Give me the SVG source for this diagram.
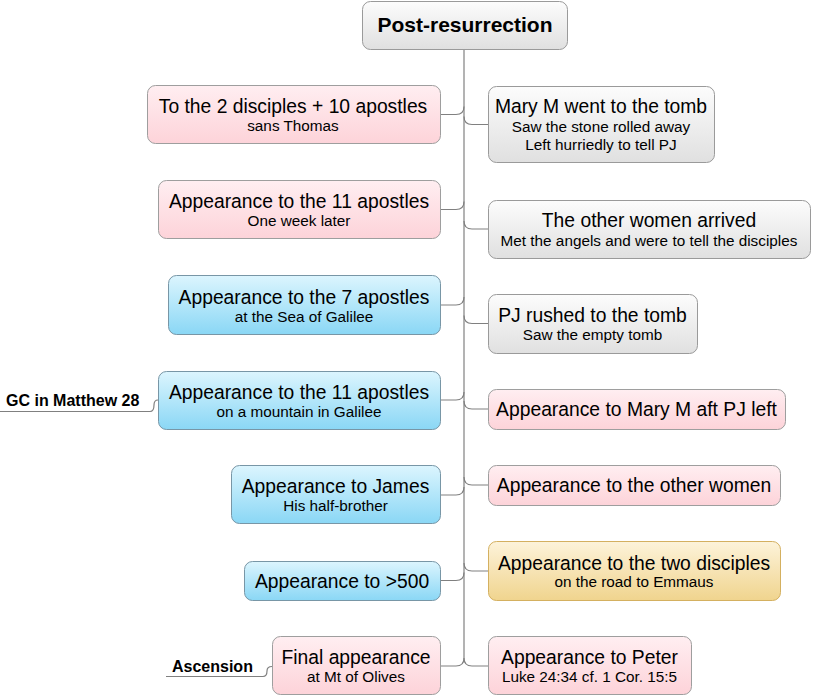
<svg xmlns="http://www.w3.org/2000/svg" width="813" height="697" viewBox="0 0 813 697">
<defs>
<linearGradient id="gPink" x1="0" y1="0" x2="0" y2="1"><stop offset="0" stop-color="#ffeef1"/><stop offset="1" stop-color="#fdd3d9"/></linearGradient>
<linearGradient id="gBlue" x1="0" y1="0" x2="0" y2="1"><stop offset="0" stop-color="#dcf5fe"/><stop offset="1" stop-color="#8ad7f5"/></linearGradient>
<linearGradient id="gGray" x1="0" y1="0" x2="0" y2="1"><stop offset="0" stop-color="#fcfcfc"/><stop offset="1" stop-color="#e0e0e0"/></linearGradient>
<linearGradient id="gGold" x1="0" y1="0" x2="0" y2="1"><stop offset="0" stop-color="#fdf3da"/><stop offset="1" stop-color="#f0d48e"/></linearGradient>
</defs>
<style>
text{font-family:"Liberation Sans",Arial,sans-serif;fill:#000;text-anchor:middle}
.m{font-size:19.3px}
.s{font-size:15.3px}
.t{font-size:21px;font-weight:bold}
.f{font-size:16px;font-weight:bold;text-anchor:start}
rect{stroke-width:1}
.pink{fill:url(#gPink);stroke:#9e9e9e}
.blue{fill:url(#gBlue);stroke:#7896a6}
.gray{fill:url(#gGray);stroke:#9a9a9a}
.gold{fill:url(#gGold);stroke:#d4b060}
.c{fill:none;stroke:#808080;stroke-width:1.2}
</style>
<rect width="813" height="697" fill="#ffffff"/>
<g id="connectors" class="c">
<path d="M464,49 V658"/>
<path d="M440,114.5 H456 Q464,114.5 464,106.5"/>
<path d="M440,209.5 H456 Q464,209.5 464,201.5"/>
<path d="M440,305 H456 Q464,305 464,297"/>
<path d="M440,400 H456 Q464,400 464,392"/>
<path d="M440,495 H456 Q464,495 464,487"/>
<path d="M440,580.5 H456 Q464,580.5 464,572.5"/>
<path d="M440,666 H456 Q464,666 464,658"/>
<path d="M464,116.5 Q464,124.5 472,124.5 H488"/>
<path d="M464,221 Q464,229 472,229 H488"/>
<path d="M464,315.5 Q464,323.5 472,323.5 H488"/>
<path d="M464,401 Q464,409 472,409 H488"/>
<path d="M464,477 Q464,485 472,485 H488"/>
<path d="M464,563 Q464,571 472,571 H488"/>
<path d="M464,658 Q464,666 472,666 H488"/>
<path d="M0,411.5 H150 Q154,411.5 154,405 Q154,400 158,400"/>
<path d="M166,676.5 H263 Q267,676.5 267,671 Q267,666.5 272,666.5"/>
</g>
<g id="n-root"><rect class="gray" x="362.5" y="1.5" width="205" height="48" rx="8"/><text class="t" x="465" y="32">Post-resurrection</text></g>
<g id="n-l1"><rect class="pink" x="147.5" y="85.5" width="293" height="58" rx="8"/><text class="m" x="293" y="113">To the 2 disciples + 10 apostles</text><text class="s" x="293" y="131">sans Thomas</text></g>
<g id="n-l2"><rect class="pink" x="158.5" y="180.5" width="282" height="58" rx="8"/><text class="m" x="299" y="208">Appearance to the 11 apostles</text><text class="s" x="299" y="226">One week later</text></g>
<g id="n-l3"><rect class="blue" x="168.5" y="275.5" width="272" height="59" rx="8"/><text class="m" x="304" y="303.5">Appearance to the 7 apostles</text><text class="s" x="304" y="321.5">at the Sea of Galilee</text></g>
<g id="n-l4"><rect class="blue" x="158.5" y="371.5" width="282" height="58" rx="8"/><text class="m" x="299" y="399">Appearance to the 11 apostles</text><text class="s" x="299" y="417">on a mountain in Galilee</text></g>
<g id="n-l5"><rect class="blue" x="231.5" y="465.5" width="209" height="58" rx="8"/><text class="m" x="335.5" y="493">Appearance to James</text><text class="s" x="335.5" y="511">His half-brother</text></g>
<g id="n-l6"><rect class="blue" x="244.5" y="561.5" width="196" height="39" rx="8"/><text class="m" x="342" y="587.5">Appearance to &gt;500</text></g>
<g id="n-l7"><rect class="pink" x="272.5" y="636.5" width="168" height="58" rx="8"/><text class="m" x="356" y="664">Final appearance</text><text class="s" x="356" y="682">at Mt of Olives</text></g>
<g id="n-r1"><rect class="gray" x="488.5" y="86.5" width="226" height="76" rx="8"/><text class="m" x="601" y="112.5">Mary M went to the tomb</text><text class="s" x="601" y="132">Saw the stone rolled away</text><text class="s" x="601" y="150">Left hurriedly to tell PJ</text></g>
<g id="n-r2"><rect class="gray" x="488.5" y="200.5" width="322" height="58" rx="8"/><text class="m" x="649" y="227">The other women arrived</text><text class="s" x="649" y="246">Met the angels and were to tell the disciples</text></g>
<g id="n-r3"><rect class="gray" x="488.5" y="294.5" width="209" height="59" rx="8"/><text class="m" x="592.5" y="322">PJ rushed to the tomb</text><text class="s" x="592.5" y="340">Saw the empty tomb</text></g>
<g id="n-r4"><rect class="pink" x="488.5" y="389.5" width="297" height="40" rx="8"/><text class="m" x="636.5" y="416">Appearance to Mary M aft PJ left</text></g>
<g id="n-r5"><rect class="pink" x="488.5" y="465.5" width="292" height="40" rx="8"/><text class="m" x="634" y="492">Appearance to the other women</text></g>
<g id="n-r6"><rect class="gold" x="488.5" y="541.5" width="292" height="59" rx="8"/><text class="m" x="634" y="569.5">Appearance to the two disciples</text><text class="s" x="634" y="587">on the road to Emmaus</text></g>
<g id="n-r7"><rect class="pink" x="488.5" y="636.5" width="203" height="58" rx="8"/><text class="m" x="589.5" y="664">Appearance to Peter</text><text class="s" x="589.5" y="682">Luke 24:34 cf. 1 Cor. 15:5</text></g>
<g id="f-gc"><text class="f" x="6" y="406">GC in Matthew 28</text></g>
<g id="f-asc"><text class="f" x="172" y="672">Ascension</text></g>
</svg>
